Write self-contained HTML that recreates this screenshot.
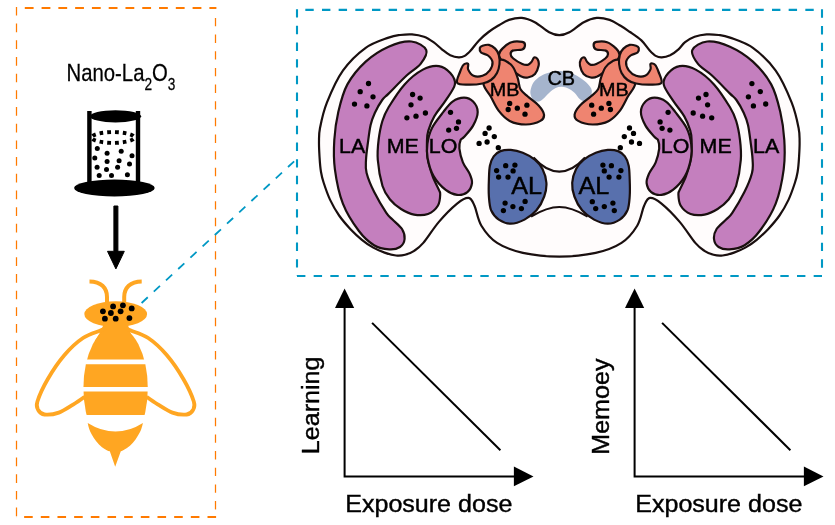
<!DOCTYPE html>
<html><head><meta charset="utf-8"><title>Nano-La2O3 honeybee brain</title>
<style>html,body{margin:0;padding:0;background:#fff}body{width:835px;height:525px;overflow:hidden;position:relative;font-family:"Liberation Sans",sans-serif}</style></head>
<body>
<svg width="835" height="525" viewBox="0 0 835 525" style="position:absolute;left:0;top:0;will-change:transform;font-family:'Liberation Sans',sans-serif">
<g fill="none" stroke="#FF7A00">
<path d="M24.8,8 H216.4" stroke-width="2" stroke-dasharray="8.8 7.98"/>
<path d="M216.1,517 H16" stroke-width="2" stroke-dasharray="8.6 8.07"/>
<path d="M16.5,6.9 V517" stroke-width="1.25" stroke-dasharray="8.7 7.99"/>
<path d="M215.5,17.9 V517" stroke-width="1.25" stroke-dasharray="8.4 8.26"/>
</g>
<g fill="none" stroke="#0098C4" stroke-width="2.1" stroke-dasharray="8.4 8.267">
<path d="M297,9.2 V276"/>
<path d="M297,276 H822"/>
<path d="M822,276 V8.9" stroke-dashoffset="8.4"/>
<path d="M822,9.9 H297" stroke-dashoffset="8.4"/>
</g>
<path d="M141.6,303 L296,159.6" fill="none" stroke="#0098C4" stroke-width="1.8" stroke-dasharray="8.4 8.25"/>
<g fill="#000" stroke="#000" stroke-width="0.25"><text transform="translate(66.60,81.40) scale(0.8750,1)" font-size="23.20" >Nano-La<tspan font-size="15.6" dy="8.2">2</tspan><tspan dy="-8.2">O</tspan><tspan font-size="15.6" dy="8.2">3</tspan></text></g>
<g fill="#000" stroke="none">
<rect x="87.2" y="111" width="4.4" height="75"/><rect x="135.8" y="111" width="4.4" height="75"/>
<ellipse cx="115.5" cy="116.3" rx="25.6" ry="6.1"/>
<ellipse cx="114.4" cy="188" rx="40.3" ry="8.4"/>
<circle cx="97.3" cy="148.6" r="2.50"/><circle cx="121.2" cy="151.2" r="2.50"/><circle cx="107.1" cy="153.2" r="2.50"/><circle cx="132.0" cy="155.8" r="2.50"/><circle cx="94.8" cy="157.9" r="2.50"/><circle cx="107.1" cy="161.6" r="2.50"/><circle cx="119.1" cy="160.8" r="2.50"/><circle cx="129.5" cy="163.9" r="2.50"/><circle cx="97.1" cy="167.3" r="2.50"/><circle cx="106.5" cy="169.4" r="2.50"/><circle cx="117.6" cy="167.3" r="2.50"/><circle cx="99.2" cy="175.4" r="2.50"/><circle cx="111.5" cy="175.4" r="2.50"/><circle cx="127.4" cy="174.8" r="2.50"/>
</g>
<ellipse cx="113" cy="137.5" rx="21.3" ry="5.4" fill="none" stroke="#000" stroke-width="3.9" pathLength="96" stroke-dasharray="3.9 4.1" stroke-dashoffset="-2.05"/>
<path d="M113.9,206 h4 v45.3 h6.4 l-8.4,17.6 l-8.4,-17.6 h6.4 z" fill="#000" stroke="#000" stroke-width="1" stroke-linejoin="round"/>
<g fill="#FFA622">
<clipPath id="bodyclip"><path d="M60,320 H170 V359.4 H60Z M60,364.3 H170 V387.1 H60Z M60,391.4 H170 V415 H60Z"/></clipPath>
<ellipse cx="115.6" cy="388" rx="32.2" ry="62" clip-path="url(#bodyclip)"/>
<path d="M87.7,422.9 Q115.6,440.2 142.9,422.9 C141.5,430 139.5,433 138.3,435 C135,441 131,445.5 127,448 C124,450 122,451 120.8,451.3 L115.2,466.8 L109.8,451.3 C108,451 105,449.5 102,447.2 C98,444 94,439 91.6,434.3 C89.5,430 88.5,427 87.7,422.9 Z"/>
<ellipse cx="115.7" cy="314.1" rx="31.4" ry="12.9"/>
<path d="M103.4,325 H128 C129.5,331 131.5,336 134.3,341 H94.8 C98,336 101,331 103.4,325 Z"/>
</g>
<g fill="none" stroke="#FFA622" stroke-width="4" stroke-linecap="butt">
<path d="M107,304 V297 C107,288 101,281.4 89.5,281.4"/>
<path d="M124.2,304 V297 C124.2,288 130.2,281.4 141.7,281.4"/>
<path d="M106.0,327.8C105.2,328.2 104.8,328.6 101.0,330.3C97.2,332.0 89.1,333.9 83.0,338.0C76.9,342.1 70.4,348.1 64.5,355.0C58.6,361.9 52.2,371.4 47.7,379.2C43.2,386.9 39.0,396.4 37.4,401.5C35.8,406.6 37.0,407.8 38.2,410.0C39.4,412.2 41.1,414.1 44.5,414.5C47.9,414.9 54.0,414.3 58.8,412.6C63.6,410.9 69.2,406.9 73.5,404.3C77.8,401.7 82.7,398.1 84.5,396.8" stroke-width="3.8"/>
<path d="M125.2,327.8C126.0,328.2 126.4,328.6 130.2,330.3C134.0,332.0 142.1,333.9 148.2,338.0C154.3,342.1 160.8,348.1 166.7,355.0C172.6,361.9 179.0,371.4 183.5,379.2C188.0,386.9 192.2,396.4 193.8,401.5C195.4,406.6 194.2,407.8 193.0,410.0C191.8,412.2 190.1,414.1 186.7,414.5C183.3,414.9 177.2,414.3 172.4,412.6C167.6,410.9 162.0,406.9 157.7,404.3C153.4,401.7 148.5,398.1 146.7,396.8" stroke-width="3.8"/>
</g>
<g fill="#000"><circle cx="102.9" cy="311.3" r="2.90"/><circle cx="113.1" cy="306.4" r="2.90"/><circle cx="122.9" cy="305.3" r="2.90"/><circle cx="131.7" cy="308.4" r="2.90"/><circle cx="110.9" cy="313.0" r="2.90"/><circle cx="120.6" cy="311.3" r="2.90"/><circle cx="104.9" cy="318.7" r="2.90"/><circle cx="115.7" cy="318.7" r="2.90"/><circle cx="129.4" cy="318.1" r="2.90"/></g>
<path d="M559.3,35.2C555.9,35.2 553.3,34.5 549.2,32.3C545.1,30.1 539.3,24.6 534.8,22.2C530.2,19.8 526.2,18.3 521.9,17.9C517.6,17.5 513.0,18.6 509.0,19.9C505.0,21.2 501.4,23.8 498.0,25.8C494.6,27.8 491.8,29.6 488.6,32.0C485.4,34.4 482.0,37.3 479.0,40.4C476.0,43.5 473.1,47.9 470.7,50.5C468.3,53.1 466.7,54.8 464.7,55.9C462.7,57.0 461.1,57.5 458.7,57.4C456.3,57.3 453.1,56.6 450.3,55.3C447.5,53.9 444.7,51.5 441.9,49.3C439.1,47.1 436.5,44.3 433.5,42.2C430.5,40.1 427.6,38.1 424.0,36.8C420.4,35.5 416.0,34.7 412.0,34.4C408.0,34.1 403.9,34.5 400.0,35.0C396.1,35.5 394.3,35.5 388.6,37.6C382.9,39.8 373.3,42.4 365.7,47.9C358.1,53.4 349.4,61.6 342.9,70.7C336.4,79.8 330.7,93.2 326.9,102.7C323.1,112.2 321.3,121.5 320.0,128.0C318.7,134.6 319.1,137.0 319.0,142.0C318.9,147.0 319.3,152.9 319.6,157.9C319.9,162.9 320.3,167.9 321.0,172.0C321.7,176.1 322.1,177.9 323.6,182.5C325.1,187.1 327.4,194.1 330.0,199.6C332.6,205.1 335.7,210.6 339.1,215.5C342.5,220.4 346.7,225.1 350.5,229.2C354.3,233.2 358.1,236.7 361.9,239.8C365.7,242.9 369.5,245.5 373.3,247.6C377.1,249.7 380.8,251.3 384.6,252.6C388.4,253.9 392.6,255.1 396.0,255.5C399.4,255.9 402.1,255.6 405.1,254.8C408.1,254.0 411.2,252.8 414.2,250.8C417.2,248.8 419.2,247.7 423.3,242.9C427.4,238.1 433.3,228.5 438.9,221.9C444.5,215.3 452.2,207.6 457.1,203.6C462.1,199.6 465.7,197.6 468.6,197.9C471.5,198.2 472.4,201.1 474.5,205.7C476.6,210.3 477.6,219.5 481.4,225.7C485.2,231.9 490.2,238.4 497.1,242.9C504.0,247.4 512.5,250.6 522.9,252.9C533.3,255.2 547.2,256.6 559.3,256.6C571.4,256.6 585.3,255.2 595.7,252.9C606.1,250.6 614.6,247.4 621.5,242.9C628.4,238.4 633.4,231.9 637.2,225.7C641.0,219.5 642.0,210.3 644.1,205.7C646.2,201.1 647.1,198.2 650.0,197.9C652.9,197.6 656.5,199.6 661.5,203.6C666.4,207.6 674.1,215.3 679.7,221.9C685.3,228.5 691.2,238.1 695.3,242.9C699.4,247.7 701.4,248.8 704.4,250.8C707.4,252.8 710.5,254.0 713.5,254.8C716.5,255.6 719.2,255.9 722.6,255.5C726.0,255.1 730.2,253.9 734.0,252.6C737.8,251.3 741.5,249.7 745.3,247.6C749.1,245.5 752.9,242.9 756.7,239.8C760.5,236.7 764.3,233.2 768.1,229.2C771.9,225.1 776.1,220.4 779.5,215.5C782.9,210.6 786.0,205.1 788.6,199.6C791.2,194.1 793.5,187.1 795.0,182.5C796.5,177.9 796.9,176.1 797.6,172.0C798.3,167.9 798.7,162.9 799.0,157.9C799.3,152.9 799.7,147.0 799.6,142.0C799.5,137.0 799.9,134.6 798.6,128.0C797.3,121.5 795.5,112.2 791.7,102.7C787.9,93.2 782.2,79.8 775.7,70.7C769.2,61.6 760.5,53.4 752.9,47.9C745.3,42.4 735.7,39.8 730.0,37.6C724.3,35.5 722.5,35.5 718.6,35.0C714.7,34.5 710.6,34.1 706.6,34.4C702.6,34.7 698.2,35.5 694.6,36.8C691.0,38.1 687.8,40.1 685.1,42.2C682.4,44.3 681.0,47.1 678.5,49.3C676.0,51.5 672.9,53.9 670.1,55.3C667.3,56.6 664.1,57.3 661.7,57.4C659.3,57.5 657.7,57.0 655.7,55.9C653.7,54.8 652.1,53.1 649.7,50.5C647.3,47.9 644.7,43.5 641.4,40.4C638.1,37.3 633.5,34.4 630.0,32.0C626.5,29.6 624.0,27.8 620.6,25.8C617.2,23.8 613.6,21.2 609.6,19.9C605.6,18.6 601.0,17.5 596.7,17.9C592.4,18.3 588.3,19.8 583.8,22.2C579.2,24.6 573.5,30.1 569.4,32.3C565.3,34.5 562.7,35.2 559.3,35.2Z" fill="#FFFCFC" stroke="#1a0f0f" stroke-width="2.2"/>
<path d="M530.5,90.6C530.9,88.3 531.9,84.7 533.6,82.2C535.3,79.8 538.1,77.6 540.9,75.9C543.7,74.2 546.9,73.1 550.4,72.3C553.9,71.5 557.9,70.8 561.9,71.2C565.9,71.6 570.7,72.7 574.5,74.4C578.3,76.1 582.1,78.9 584.9,81.2C587.7,83.5 590.1,86.2 591.2,88.5C592.3,90.8 591.8,92.9 591.4,94.8C591.0,96.7 590.2,98.9 589.1,100.0C588.0,101.1 586.5,101.8 584.9,101.6C583.3,101.4 581.4,100.5 579.7,99.0C578.0,97.5 576.4,94.5 574.5,92.7C572.6,91.0 570.3,89.5 568.2,88.5C566.1,87.5 564.0,86.8 561.9,86.7C559.8,86.6 557.7,87.0 555.6,88.0C553.5,89.0 551.4,90.9 549.3,92.7C547.2,94.5 544.8,97.5 543.0,99.0C541.2,100.5 540.4,101.4 538.8,101.6C537.2,101.8 534.9,101.0 533.6,100.0C532.3,99.0 531.5,97.4 531.0,95.8C530.5,94.2 530.1,92.9 530.5,90.6Z" fill="#A5B4CD"/>
<path d="M533.5,157.5 C543,168 551,171.6 559.3,171.6 C567.6,171.6 575.6,168 585.1,157.5" fill="none" stroke="#1a0f0f" stroke-width="2.2"/>
<path d="M531,216.5 C543,209.5 552,207 559.3,207 C566.6,207 575.6,209.5 587.6,216.5" fill="none" stroke="#1a0f0f" stroke-width="2.2"/>
<g><path d="M426.3,50.1C424.8,46.4 417.7,42.1 411.4,41.5C405.1,40.9 396.2,43.4 388.6,46.7C381.0,50.1 372.6,55.3 365.7,61.6C358.8,67.9 352.0,76.0 347.4,84.4C342.8,92.8 340.5,102.6 338.3,111.9C336.1,121.2 334.9,130.4 334.3,140.0C333.7,149.6 333.5,158.7 334.9,169.3C336.3,179.9 338.9,193.3 342.9,203.6C346.9,213.9 353.7,224.1 358.9,231.0C364.1,237.9 368.9,242.1 374.0,245.2C379.1,248.3 384.9,249.1 389.2,249.4C393.5,249.7 397.4,248.7 400.0,247.0C402.6,245.3 404.3,242.0 404.6,239.0C404.9,236.0 404.0,232.2 402.0,229.0C400.0,225.8 395.1,222.2 392.5,219.5C389.9,216.8 389.4,217.4 386.3,212.8C383.2,208.2 377.5,198.7 374.2,192.1C370.9,185.5 368.0,178.3 366.6,173.0C365.2,167.7 365.8,164.7 366.0,160.0C366.2,155.3 366.8,150.8 367.6,145.0C368.4,139.2 369.4,130.3 370.6,125.0C371.8,119.7 372.9,117.2 374.8,113.0C376.7,108.8 379.9,103.2 382.2,100.0C384.5,96.8 384.5,97.7 388.6,93.6C392.7,89.5 401.6,80.2 406.9,75.3C412.2,70.3 417.4,68.1 420.6,63.9C423.8,59.7 427.8,53.8 426.3,50.1Z" fill="#C47FBE" stroke="#1a0f0f" stroke-width="2.2"/>
<path d="M454.9,84.4C455.7,79.8 453.0,76.0 450.3,73.0C447.6,70.0 443.5,66.7 438.9,66.1C434.3,65.5 428.6,66.5 422.9,69.6C417.2,72.6 410.3,78.1 404.6,84.4C398.9,90.7 392.3,101.2 388.6,107.3C384.9,113.4 384.1,115.5 382.4,121.0C380.7,126.5 379.4,133.5 378.6,140.0C377.8,146.5 377.2,152.3 377.8,160.0C378.4,167.7 380.5,179.4 382.5,186.0C384.5,192.6 386.9,195.7 390.0,199.5C393.1,203.3 397.0,206.5 401.0,209.0C405.0,211.5 409.5,213.8 414.0,214.6C418.5,215.4 424.0,215.5 428.0,214.0C432.0,212.5 436.0,208.8 438.0,205.5C440.0,202.2 440.1,197.0 440.2,194.4C440.3,191.8 440.2,193.0 438.9,189.9C437.6,186.8 434.5,181.4 432.6,176.1C430.7,170.8 428.4,163.9 427.5,157.9C426.6,151.9 426.9,144.6 427.0,140.0C427.1,135.4 427.2,134.3 428.4,130.4C429.6,126.5 431.4,121.4 434.3,116.4C437.2,111.4 442.3,105.7 445.7,100.4C449.1,95.1 454.1,89.0 454.9,84.4Z" fill="#C47FBE" stroke="#1a0f0f" stroke-width="2.2"/>
<path d="M477.7,111.9C477.7,107.9 475.4,104.0 473.1,101.6C470.8,99.2 467.4,97.7 464.0,97.7C460.6,97.7 456.0,99.2 452.6,101.6C449.2,104.0 446.8,107.5 443.4,111.9C440.0,116.3 434.7,122.6 432.0,127.9C429.3,133.2 428.1,138.9 427.4,143.9C426.7,148.9 426.6,152.5 427.6,157.9C428.6,163.3 430.6,170.8 433.6,176.1C436.6,181.4 441.8,186.8 445.7,189.9C449.6,193.0 453.5,194.5 457.1,194.9C460.7,195.3 464.9,194.1 467.4,192.1C469.9,190.1 471.6,186.0 472.0,183.0C472.4,180.0 471.2,177.3 469.7,173.9C468.2,170.5 464.6,166.6 462.9,162.4C461.2,158.2 459.8,152.4 459.4,148.7C459.0,145.0 459.8,141.9 460.6,140.0C461.4,138.1 461.9,139.4 464.0,137.0C466.1,134.6 470.8,129.8 473.1,125.6C475.4,121.4 477.7,115.9 477.7,111.9Z" fill="#C47FBE" stroke="#1a0f0f" stroke-width="2.2"/>
<path d="M502.4,48.6C504.5,46.5 508.2,43.3 511.5,42.2C514.8,41.1 520.0,41.5 522.3,41.9C524.5,42.3 525.0,43.6 525.0,44.9C525.0,46.2 524.2,48.6 522.3,49.5C520.3,50.4 515.2,49.6 513.3,50.4C511.3,51.1 510.6,52.6 510.6,54.0C510.6,55.4 511.3,56.9 513.3,58.5C515.2,60.1 519.9,62.9 522.3,63.9C524.7,65.0 526.3,65.1 527.8,64.8C529.3,64.5 530.3,63.3 531.4,62.1C532.5,60.9 533.0,58.1 534.1,57.6C535.2,57.1 537.0,58.0 537.7,59.4C538.5,60.8 539.1,63.3 538.6,65.7C538.1,68.1 536.8,71.9 535.0,73.9C533.2,75.9 530.1,77.0 527.8,77.5C525.5,78.0 524.0,77.8 521.4,76.6C518.8,75.3 515.1,72.4 512.0,70.0C508.9,67.6 505.2,64.5 503.0,62.0C500.8,59.5 499.1,57.2 499.0,55.0C498.9,52.8 500.3,50.7 502.4,48.6Z" fill="#EF8470" stroke="#1a0f0f" stroke-width="2.2"/>
<path d="M498.8,60.3C496.1,62.1 492.6,68.1 490.0,72.0C487.4,75.9 483.4,79.7 483.5,83.8C483.6,87.9 488.1,92.0 490.7,96.5C493.2,101.0 495.6,106.8 498.8,110.9C502.0,115.0 505.2,118.6 509.7,120.9C514.2,123.2 520.8,124.5 525.9,124.5C531.0,124.5 537.4,122.6 540.4,120.9C543.4,119.2 544.3,117.2 544.0,114.6C543.7,112.0 541.3,108.5 538.6,105.5C535.9,102.5 530.8,99.2 527.8,96.5C524.8,93.8 522.2,92.2 520.5,89.2C518.8,86.2 519.0,82.0 517.8,78.4C516.6,74.8 515.2,70.4 513.3,67.5C511.3,64.6 508.5,62.4 506.1,61.2C503.7,60.0 501.5,58.5 498.8,60.3Z" fill="#EF8470" stroke="#1a0f0f" stroke-width="2.2"/>
<path d="M457.2,82.9C455.8,80.8 458.9,75.0 460.0,72.0C461.1,69.0 462.2,66.1 463.6,64.8C465.0,63.4 467.4,63.1 468.1,63.9C468.9,64.7 467.2,67.4 468.1,69.4C469.0,71.4 471.1,74.7 473.5,75.7C475.9,76.8 479.8,76.6 482.5,75.7C485.2,74.8 488.1,72.6 489.8,70.3C491.5,68.0 492.8,64.5 492.5,62.0C492.2,59.5 489.9,57.1 488.0,55.5C486.1,53.9 482.4,53.8 481.0,52.5C479.6,51.2 479.6,49.1 479.8,48.0C480.1,46.9 481.0,46.3 482.5,45.8C484.0,45.3 486.8,44.4 488.9,44.9C491.0,45.4 493.5,46.9 495.2,48.6C496.9,50.3 498.1,52.3 498.8,54.9C499.5,57.5 499.8,61.0 499.5,64.0C499.2,67.0 498.4,70.3 497.0,73.0C495.6,75.7 493.4,78.2 491.0,80.0C488.6,81.8 486.3,82.7 482.5,83.5C478.7,84.3 472.3,84.8 468.1,84.7C463.9,84.6 458.6,85.0 457.2,82.9Z" fill="#EF8470" stroke="#1a0f0f" stroke-width="2.2"/>
<path d="M488.9,179.4C489.1,174.3 489.1,169.5 489.9,165.7C490.7,161.8 491.9,158.7 493.7,156.3C495.5,153.9 497.6,152.2 500.5,151.1C503.4,150.0 507.1,149.6 510.8,149.9C514.5,150.2 518.8,151.2 522.8,152.8C526.8,154.4 531.5,157.0 534.8,159.7C538.1,162.4 540.6,165.2 542.5,169.1C544.4,172.9 546.1,178.2 546.4,182.8C546.7,187.4 545.9,191.9 544.2,196.5C542.6,201.1 539.8,206.3 536.5,210.2C533.2,214.0 528.8,217.3 524.5,219.6C520.2,221.8 515.1,223.7 510.8,223.7C506.5,223.7 502.1,221.8 498.8,219.6C495.5,217.3 492.8,214.0 491.1,210.2C489.5,206.3 489.3,201.6 488.9,196.5C488.5,191.4 488.7,184.5 488.9,179.4Z" fill="#5870AD" stroke="#1a0f0f" stroke-width="2.2"/>
<g fill="#000"><circle cx="412.6" cy="94.5" r="2.65"/><circle cx="420.1" cy="98.1" r="2.65"/><circle cx="411.0" cy="104.8" r="2.65"/><circle cx="425.4" cy="113.0" r="2.65"/><circle cx="416.0" cy="116.2" r="2.65"/><circle cx="406.9" cy="117.8" r="2.65"/><circle cx="450.5" cy="112.3" r="2.65"/><circle cx="458.5" cy="121.9" r="2.65"/><circle cx="456.5" cy="128.3" r="2.65"/><circle cx="448.7" cy="130.1" r="2.65"/><circle cx="509.7" cy="103.4" r="2.65"/><circle cx="508.2" cy="109.5" r="2.65"/><circle cx="517.3" cy="108.2" r="2.65"/><circle cx="526.9" cy="105.2" r="2.65"/><circle cx="525.0" cy="114.2" r="2.65"/><circle cx="489.1" cy="128.0" r="2.65"/><circle cx="485.1" cy="133.4" r="2.65"/><circle cx="494.3" cy="136.6" r="2.65"/><circle cx="479.1" cy="143.4" r="2.65"/><circle cx="487.1" cy="142.0" r="2.65"/><circle cx="498.3" cy="147.7" r="2.65"/></g></g>
<g transform="translate(1118.6,0) scale(-1,1)"><path d="M426.3,50.1C424.8,46.4 417.7,42.1 411.4,41.5C405.1,40.9 396.2,43.4 388.6,46.7C381.0,50.1 372.6,55.3 365.7,61.6C358.8,67.9 352.0,76.0 347.4,84.4C342.8,92.8 340.5,102.6 338.3,111.9C336.1,121.2 334.9,130.4 334.3,140.0C333.7,149.6 333.5,158.7 334.9,169.3C336.3,179.9 338.9,193.3 342.9,203.6C346.9,213.9 353.7,224.1 358.9,231.0C364.1,237.9 368.9,242.1 374.0,245.2C379.1,248.3 384.9,249.1 389.2,249.4C393.5,249.7 397.4,248.7 400.0,247.0C402.6,245.3 404.3,242.0 404.6,239.0C404.9,236.0 404.0,232.2 402.0,229.0C400.0,225.8 395.1,222.2 392.5,219.5C389.9,216.8 389.4,217.4 386.3,212.8C383.2,208.2 377.5,198.7 374.2,192.1C370.9,185.5 368.0,178.3 366.6,173.0C365.2,167.7 365.8,164.7 366.0,160.0C366.2,155.3 366.8,150.8 367.6,145.0C368.4,139.2 369.4,130.3 370.6,125.0C371.8,119.7 372.9,117.2 374.8,113.0C376.7,108.8 379.9,103.2 382.2,100.0C384.5,96.8 384.5,97.7 388.6,93.6C392.7,89.5 401.6,80.2 406.9,75.3C412.2,70.3 417.4,68.1 420.6,63.9C423.8,59.7 427.8,53.8 426.3,50.1Z" fill="#C47FBE" stroke="#1a0f0f" stroke-width="2.2"/>
<path d="M454.9,84.4C455.7,79.8 453.0,76.0 450.3,73.0C447.6,70.0 443.5,66.7 438.9,66.1C434.3,65.5 428.6,66.5 422.9,69.6C417.2,72.6 410.3,78.1 404.6,84.4C398.9,90.7 392.3,101.2 388.6,107.3C384.9,113.4 384.1,115.5 382.4,121.0C380.7,126.5 379.4,133.5 378.6,140.0C377.8,146.5 377.2,152.3 377.8,160.0C378.4,167.7 380.5,179.4 382.5,186.0C384.5,192.6 386.9,195.7 390.0,199.5C393.1,203.3 397.0,206.5 401.0,209.0C405.0,211.5 409.5,213.8 414.0,214.6C418.5,215.4 424.0,215.5 428.0,214.0C432.0,212.5 436.0,208.8 438.0,205.5C440.0,202.2 440.1,197.0 440.2,194.4C440.3,191.8 440.2,193.0 438.9,189.9C437.6,186.8 434.5,181.4 432.6,176.1C430.7,170.8 428.4,163.9 427.5,157.9C426.6,151.9 426.9,144.6 427.0,140.0C427.1,135.4 427.2,134.3 428.4,130.4C429.6,126.5 431.4,121.4 434.3,116.4C437.2,111.4 442.3,105.7 445.7,100.4C449.1,95.1 454.1,89.0 454.9,84.4Z" fill="#C47FBE" stroke="#1a0f0f" stroke-width="2.2"/>
<path d="M477.7,111.9C477.7,107.9 475.4,104.0 473.1,101.6C470.8,99.2 467.4,97.7 464.0,97.7C460.6,97.7 456.0,99.2 452.6,101.6C449.2,104.0 446.8,107.5 443.4,111.9C440.0,116.3 434.7,122.6 432.0,127.9C429.3,133.2 428.1,138.9 427.4,143.9C426.7,148.9 426.6,152.5 427.6,157.9C428.6,163.3 430.6,170.8 433.6,176.1C436.6,181.4 441.8,186.8 445.7,189.9C449.6,193.0 453.5,194.5 457.1,194.9C460.7,195.3 464.9,194.1 467.4,192.1C469.9,190.1 471.6,186.0 472.0,183.0C472.4,180.0 471.2,177.3 469.7,173.9C468.2,170.5 464.6,166.6 462.9,162.4C461.2,158.2 459.8,152.4 459.4,148.7C459.0,145.0 459.8,141.9 460.6,140.0C461.4,138.1 461.9,139.4 464.0,137.0C466.1,134.6 470.8,129.8 473.1,125.6C475.4,121.4 477.7,115.9 477.7,111.9Z" fill="#C47FBE" stroke="#1a0f0f" stroke-width="2.2"/>
<path d="M502.4,48.6C504.5,46.5 508.2,43.3 511.5,42.2C514.8,41.1 520.0,41.5 522.3,41.9C524.5,42.3 525.0,43.6 525.0,44.9C525.0,46.2 524.2,48.6 522.3,49.5C520.3,50.4 515.2,49.6 513.3,50.4C511.3,51.1 510.6,52.6 510.6,54.0C510.6,55.4 511.3,56.9 513.3,58.5C515.2,60.1 519.9,62.9 522.3,63.9C524.7,65.0 526.3,65.1 527.8,64.8C529.3,64.5 530.3,63.3 531.4,62.1C532.5,60.9 533.0,58.1 534.1,57.6C535.2,57.1 537.0,58.0 537.7,59.4C538.5,60.8 539.1,63.3 538.6,65.7C538.1,68.1 536.8,71.9 535.0,73.9C533.2,75.9 530.1,77.0 527.8,77.5C525.5,78.0 524.0,77.8 521.4,76.6C518.8,75.3 515.1,72.4 512.0,70.0C508.9,67.6 505.2,64.5 503.0,62.0C500.8,59.5 499.1,57.2 499.0,55.0C498.9,52.8 500.3,50.7 502.4,48.6Z" fill="#EF8470" stroke="#1a0f0f" stroke-width="2.2"/>
<path d="M498.8,60.3C496.1,62.1 492.6,68.1 490.0,72.0C487.4,75.9 483.4,79.7 483.5,83.8C483.6,87.9 488.1,92.0 490.7,96.5C493.2,101.0 495.6,106.8 498.8,110.9C502.0,115.0 505.2,118.6 509.7,120.9C514.2,123.2 520.8,124.5 525.9,124.5C531.0,124.5 537.4,122.6 540.4,120.9C543.4,119.2 544.3,117.2 544.0,114.6C543.7,112.0 541.3,108.5 538.6,105.5C535.9,102.5 530.8,99.2 527.8,96.5C524.8,93.8 522.2,92.2 520.5,89.2C518.8,86.2 519.0,82.0 517.8,78.4C516.6,74.8 515.2,70.4 513.3,67.5C511.3,64.6 508.5,62.4 506.1,61.2C503.7,60.0 501.5,58.5 498.8,60.3Z" fill="#EF8470" stroke="#1a0f0f" stroke-width="2.2"/>
<path d="M457.2,82.9C455.8,80.8 458.9,75.0 460.0,72.0C461.1,69.0 462.2,66.1 463.6,64.8C465.0,63.4 467.4,63.1 468.1,63.9C468.9,64.7 467.2,67.4 468.1,69.4C469.0,71.4 471.1,74.7 473.5,75.7C475.9,76.8 479.8,76.6 482.5,75.7C485.2,74.8 488.1,72.6 489.8,70.3C491.5,68.0 492.8,64.5 492.5,62.0C492.2,59.5 489.9,57.1 488.0,55.5C486.1,53.9 482.4,53.8 481.0,52.5C479.6,51.2 479.6,49.1 479.8,48.0C480.1,46.9 481.0,46.3 482.5,45.8C484.0,45.3 486.8,44.4 488.9,44.9C491.0,45.4 493.5,46.9 495.2,48.6C496.9,50.3 498.1,52.3 498.8,54.9C499.5,57.5 499.8,61.0 499.5,64.0C499.2,67.0 498.4,70.3 497.0,73.0C495.6,75.7 493.4,78.2 491.0,80.0C488.6,81.8 486.3,82.7 482.5,83.5C478.7,84.3 472.3,84.8 468.1,84.7C463.9,84.6 458.6,85.0 457.2,82.9Z" fill="#EF8470" stroke="#1a0f0f" stroke-width="2.2"/>
<path d="M488.9,179.4C489.1,174.3 489.1,169.5 489.9,165.7C490.7,161.8 491.9,158.7 493.7,156.3C495.5,153.9 497.6,152.2 500.5,151.1C503.4,150.0 507.1,149.6 510.8,149.9C514.5,150.2 518.8,151.2 522.8,152.8C526.8,154.4 531.5,157.0 534.8,159.7C538.1,162.4 540.6,165.2 542.5,169.1C544.4,172.9 546.1,178.2 546.4,182.8C546.7,187.4 545.9,191.9 544.2,196.5C542.6,201.1 539.8,206.3 536.5,210.2C533.2,214.0 528.8,217.3 524.5,219.6C520.2,221.8 515.1,223.7 510.8,223.7C506.5,223.7 502.1,221.8 498.8,219.6C495.5,217.3 492.8,214.0 491.1,210.2C489.5,206.3 489.3,201.6 488.9,196.5C488.5,191.4 488.7,184.5 488.9,179.4Z" fill="#5870AD" stroke="#1a0f0f" stroke-width="2.2"/>
<g fill="#000"><circle cx="412.6" cy="94.5" r="2.65"/><circle cx="420.1" cy="98.1" r="2.65"/><circle cx="411.0" cy="104.8" r="2.65"/><circle cx="425.4" cy="113.0" r="2.65"/><circle cx="416.0" cy="116.2" r="2.65"/><circle cx="406.9" cy="117.8" r="2.65"/><circle cx="450.5" cy="112.3" r="2.65"/><circle cx="458.5" cy="121.9" r="2.65"/><circle cx="456.5" cy="128.3" r="2.65"/><circle cx="448.7" cy="130.1" r="2.65"/><circle cx="509.7" cy="103.4" r="2.65"/><circle cx="508.2" cy="109.5" r="2.65"/><circle cx="517.3" cy="108.2" r="2.65"/><circle cx="526.9" cy="105.2" r="2.65"/><circle cx="525.0" cy="114.2" r="2.65"/><circle cx="489.1" cy="128.0" r="2.65"/><circle cx="485.1" cy="133.4" r="2.65"/><circle cx="494.3" cy="136.6" r="2.65"/><circle cx="479.1" cy="143.4" r="2.65"/><circle cx="487.1" cy="142.0" r="2.65"/><circle cx="498.3" cy="147.7" r="2.65"/></g></g>
<g fill="#000"><circle cx="496.6" cy="170.6" r="2.65"/><circle cx="505.7" cy="165.7" r="2.65"/><circle cx="514.9" cy="165.1" r="2.65"/><circle cx="513.1" cy="170.9" r="2.65"/><circle cx="498.6" cy="177.1" r="2.65"/><circle cx="508.0" cy="177.1" r="2.65"/><circle cx="505.1" cy="203.1" r="2.65"/><circle cx="525.1" cy="201.4" r="2.65"/><circle cx="503.4" cy="210.6" r="2.65"/><circle cx="512.9" cy="206.6" r="2.65"/><circle cx="521.4" cy="208.6" r="2.65"/><circle cx="602.9" cy="165.1" r="2.65"/><circle cx="611.4" cy="165.7" r="2.65"/><circle cx="604.3" cy="170.9" r="2.65"/><circle cx="620.9" cy="170.6" r="2.65"/><circle cx="609.1" cy="177.1" r="2.65"/><circle cx="618.9" cy="177.1" r="2.65"/><circle cx="592.3" cy="201.7" r="2.65"/><circle cx="595.7" cy="208.6" r="2.65"/><circle cx="604.3" cy="206.6" r="2.65"/><circle cx="612.9" cy="203.1" r="2.65"/><circle cx="614.3" cy="210.6" r="2.65"/><circle cx="368.5" cy="83.5" r="2.65"/><circle cx="360.2" cy="91.7" r="2.65"/><circle cx="373.0" cy="96.8" r="2.65"/><circle cx="354.5" cy="104.1" r="2.65"/><circle cx="366.9" cy="105.9" r="2.65"/><circle cx="751.9" cy="83.6" r="2.65"/><circle cx="760.3" cy="91.6" r="2.65"/><circle cx="748.4" cy="96.8" r="2.65"/><circle cx="765.7" cy="104.0" r="2.65"/><circle cx="753.4" cy="105.9" r="2.65"/></g>
<g fill="#000" stroke="#000" stroke-width="0.45">
<text transform="translate(339.00,152.70) scale(1.0200,1)" font-size="21.00" >LA</text>
<text transform="translate(386.70,152.70) scale(1.0200,1)" font-size="21.00" >ME</text>
<text transform="translate(428.80,152.70) scale(1.0200,1)" font-size="21.00" >LO</text>
<text transform="translate(753.00,152.70) scale(1.0200,1)" font-size="21.00" >LA</text>
<text transform="translate(699.60,152.70) scale(1.0200,1)" font-size="21.00" >ME</text>
<text transform="translate(660.80,152.70) scale(1.0200,1)" font-size="21.00" >LO</text>
<text transform="translate(489.70,95.70) scale(1.0300,1)" font-size="19.20" >MB</text>
<text transform="translate(599.00,95.70) scale(1.0300,1)" font-size="19.20" >MB</text>
<text transform="translate(547.50,85.40) scale(1.0300,1)" font-size="19.30" >CB</text>
<text transform="translate(511.30,193.70) scale(1.0500,1)" font-size="24.00" >AL</text>
<text transform="translate(578.50,193.70) scale(1.0500,1)" font-size="24.00" >AL</text>
</g>
<path d="M344.6,300 V476.4 H519.6" fill="none" stroke="#000" stroke-width="2"/><path d="M344.6,288.4 l9.6,19.6 h-19.2 z" fill="#000"/><path d="M533.5,476.4 l-19.6,9.8 v-19.6 z" fill="#000"/><path d="M372.1,322.9 L500.4,450.2" stroke="#000" stroke-width="2"/><g fill="#000" stroke="#000" stroke-width="0.4"><text transform="translate(319.00,454.30) rotate(-90) scale(1.0350,1)" font-size="24.30" >Learning</text><text transform="translate(345.20,511.50) scale(1.0360,1)" font-size="24.20" >Exposure dose</text></g>
<path d="M634.6,300 V476.4 H809.6" fill="none" stroke="#000" stroke-width="2"/><path d="M634.6,288.4 l9.6,19.6 h-19.2 z" fill="#000"/><path d="M823.5,476.4 l-19.6,9.8 v-19.6 z" fill="#000"/><path d="M662.1,322.9 L790.4,450.2" stroke="#000" stroke-width="2"/><g fill="#000" stroke="#000" stroke-width="0.4"><text transform="translate(609.00,454.80) rotate(-90) scale(1.0350,1)" font-size="24.30" >Memoey</text><text transform="translate(635.20,511.50) scale(1.0360,1)" font-size="24.20" >Exposure dose</text></g>
</svg>
</body></html>
